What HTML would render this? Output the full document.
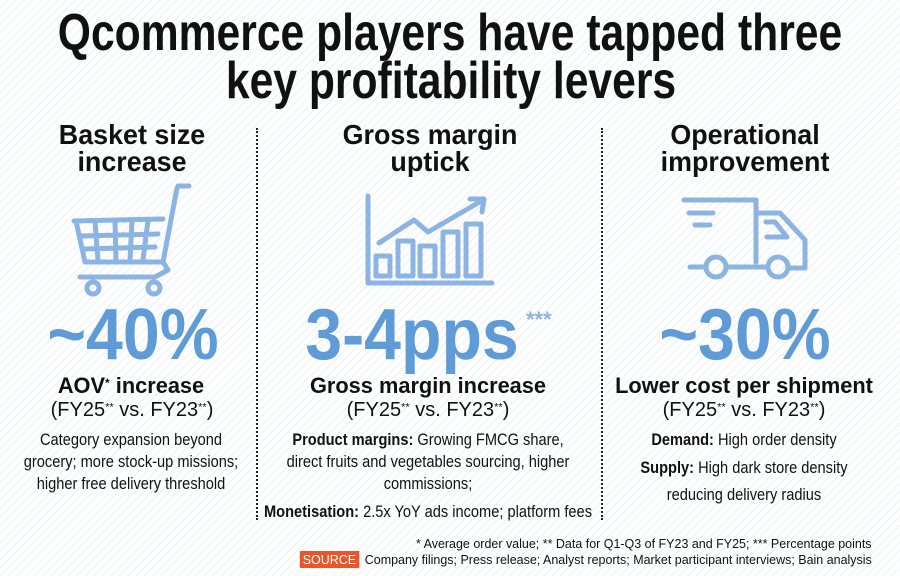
<!DOCTYPE html>
<html><head><meta charset="utf-8"><style>
html,body{margin:0;padding:0}
body{width:900px;height:576px;position:relative;overflow:hidden;font-family:"Liberation Sans",sans-serif;color:#111;
background:#fff repeating-linear-gradient(135deg,#fff 0,#fff 5px,#e8f0f8 5px,#e8f0f8 6px);}
.l{position:absolute;white-space:nowrap;line-height:1;transform:translateX(-50%) scaleX(var(--s,1));}
.t{font-weight:bold;font-size:52px;--s:0.82}
.h{font-weight:bold;font-size:28px;--s:0.96}
.n{font-weight:bold;font-size:72px;color:#5f9bd6;--s:0.92}
.a{font-weight:bold;font-size:22px;--s:0.99}
.f{font-size:20px;--s:1}
.b{font-size:17px;--s:0.86}
.ft{position:absolute;right:28px;font-size:13px;white-space:nowrap;line-height:1;transform-origin:right;transform:scaleX(0.96)}
.div{position:absolute;top:128px;height:392px;border-left:2px dotted #222;}
sup{font-size:0.55em;vertical-align:0.5em;line-height:0}
</style></head><body>
<div class="l t" style="left:450px;top:7px">Qcommerce players have tapped three</div>
<div class="l t" style="left:451px;top:55px">key profitability levers</div>
<div class="div" style="left:256px"></div>
<div class="div" style="left:601px"></div>

<div class="l h" style="left:132px;top:121px">Basket size</div>
<div class="l h" style="left:132px;top:148px">increase</div>
<div class="l h" style="left:430px;top:121px">Gross margin</div>
<div class="l h" style="left:430px;top:148px">uptick</div>
<div class="l h" style="left:745px;top:121px">Operational</div>
<div class="l h" style="left:745px;top:148px">improvement</div>

<svg style="position:absolute;left:0;top:0" width="900" height="576" fill="none" stroke="#8cb4e2" stroke-width="5" stroke-linecap="round" stroke-linejoin="round">
<path d="M178 186 L189 186 M177 188 L163 262 L168 270 L155 277 L80 277"/>
<path d="M74 221 L163 219 M76 221 L85 262 L161 262"/>
<path d="M82 236 L158 234 M84 249 L155 247 M95 222 L98 260 M115 221 L116 260 M132 221 L130 260 M148 220 L143 260"/>
<circle cx="93" cy="288" r="6"/><circle cx="154" cy="288" r="6"/>
<path d="M368 196 L368 283 L492 283"/>
<rect x="376" y="256" width="14" height="20"/><rect x="398" y="241" width="15" height="35"/><rect x="420" y="246" width="15" height="30"/><rect x="443" y="232" width="15" height="44"/><rect x="466" y="224" width="15" height="52"/>
<path d="M379 243 L414 220 L428 232 L483 200 M470 199 L484 199 L482 212"/>
<path d="M684 200 L756 200 L756 262 M756 213 L780 213 L805 240 L805 268 L790 268 M766 222 L775 222 L787 237 L767 237 M689 213 L713 213 M695 225 L710 225 M690 267 L705 267 M727 267 L766 267"/>
<circle cx="716" cy="267" r="10"/><circle cx="778" cy="267" r="10"/>
</svg>

<div class="l n" style="left:133px;top:299px">~40%</div>
<div class="l n" style="left:412px;top:299px">3-4pps</div>
<div style="position:absolute;left:526px;top:309px;font-size:22px;font-weight:bold;color:#8cb4e2;line-height:1">***</div>
<div class="l n" style="left:745px;top:299px">~30%</div>

<div class="l a" style="left:131px;top:375px">AOV<sup>*</sup> increase</div>
<div class="l f" style="left:132px;top:400px">(FY25<sup>**</sup> vs. FY23<sup>**</sup>)</div>
<div class="l b" style="left:131px;top:431px">Category expansion beyond</div>
<div class="l b" style="left:131px;top:453px">grocery; more stock-up missions;</div>
<div class="l b" style="left:131px;top:475px">higher free delivery threshold</div>

<div class="l a" style="left:428px;top:375px">Gross margin increase</div>
<div class="l f" style="left:428px;top:400px">(FY25<sup>**</sup> vs. FY23<sup>**</sup>)</div>
<div class="l b" style="left:428px;top:431px"><b>Product margins:</b> Growing FMCG share,</div>
<div class="l b" style="left:428px;top:453px">direct fruits and vegetables sourcing, higher</div>
<div class="l b" style="left:428px;top:475px">commissions;</div>
<div class="l b" style="left:428px;top:503px"><b>Monetisation:</b> 2.5x YoY ads income; platform fees</div>

<div class="l a" style="left:744px;top:375px">Lower cost per shipment</div>
<div class="l f" style="left:744px;top:400px">(FY25<sup>**</sup> vs. FY23<sup>**</sup>)</div>
<div class="l b" style="left:744px;top:431px"><b>Demand:</b> High order density</div>
<div class="l b" style="left:744px;top:459px"><b>Supply:</b> High dark store density</div>
<div class="l b" style="left:744px;top:486px">reducing delivery radius</div>

<div class="ft" style="top:537px">* Average order value; ** Data for Q1-Q3 of FY23 and FY25; *** Percentage points</div>
<div class="ft" style="top:553px"><span style="background:#e8562a;color:#fff;padding:1px 3px;margin-right:6px">SOURCE</span>Company filings; Press release; Analyst reports; Market participant interviews; Bain analysis</div>
</body></html>
